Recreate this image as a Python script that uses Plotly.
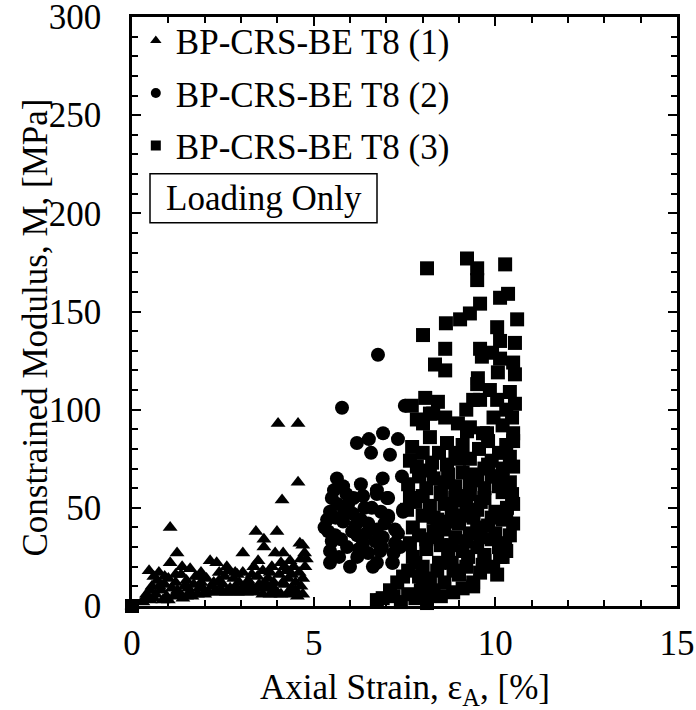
import plotly.graph_objects as go

# ---- Data ----
t1_x = [0, 0.3, 0.4, 0.47, 0.55, 0.6, 0.7, 0.74, 0.8, 0.9, 0.95, 1.0, 1.05, 1.05, 1.1, 1.2, 1.24, 1.3,
        1.35, 1.38, 1.45, 1.5, 1.6, 1.6, 1.7, 1.75, 1.85, 1.87, 1.9, 2.0, 2.05, 2.15, 2.2, 2.3, 2.33, 2.4,
        2.5, 2.6, 2.61, 2.65, 2.7, 2.8, 2.84, 2.9, 2.95, 3.05, 3.05, 3.1, 3.2, 3.3, 3.35, 3.41, 3.45,
        3.47, 3.5, 3.6, 3.63, 3.63, 3.7, 3.75, 3.85, 3.9, 3.94, 3.99, 4.02, 4.05, 4.1, 4.13, 4.16, 4.2,
        4.25, 4.3, 4.35, 4.4, 4.45, 4.5, 4.57, 4.57, 4.6, 4.62, 4.65, 4.7, 4.7, 4.75, 4.76, 4.4, 3.6,
        2.0, 1.0, 3.0, 4.0, 2.5, 1.5, 0.5,
        0.35, 0.5, 0.65, 0.75, 0.85, 0.9, 1.15, 1.25, 1.4, 1.55, 1.65, 1.8, 1.95, 2.1, 2.25, 2.35,
        2.45, 2.55, 2.75, 2.85, 3.0, 3.15, 3.25, 3.4, 3.55, 3.65, 3.8, 3.85, 3.95, 4.1, 4.15, 4.3,
        4.5, 4.55, 4.65, 4.7, 4.8, 4.4, 4.2, 3.8, 3.3, 2.9, 2.4, 1.9, 1.2, 0.6]
t1_y = [0, 2, 6, 18, 10, 4, 13, 17, 8, 11, 5, 14, 22, 40, 9, 12, 27, 6,
        16, 20, 10, 13, 19, 7, 11, 15, 9, 15, 12, 7, 14, 23, 10, 8, 22, 13,
        11, 7, 20, 18, 9, 14, 17, 7, 12, 27, 17, 10, 13, 8, 20, 38, 15,
        23, 11, 18, 34, 30, 9, 14, 20, 12, 27, 38, 93, 16, 22, 54, 27, 11,
        18, 14, 23, 9, 20, 12, 93, 63, 17, 32, 24, 31, 14, 27, 20, 6, 6,
        6, 3, 7, 6, 7, 5, 3,
        4, 8, 6, 10, 3, 15, 5, 8, 4, 9, 5, 6, 9, 7, 12, 7,
        8, 15, 7, 10, 8, 7, 11, 7, 9, 12, 6, 10, 8, 6, 12, 7,
        8, 5, 10, 6, 24, 16, 20, 17, 16, 16, 17, 17, 16, 15]

t2_x = [0, 6.77, 5.78, 7.51, 6.19, 6.52, 6.91, 6.58, 7.1, 7.32, 7.43, 5.64, 5.56, 5.81, 5.95, 6.36,
        6.74, 7.05, 5.45, 5.37, 5.81, 6.08, 6.5, 7.05, 7.46, 5.59, 6.06, 6.74, 7.32, 5.45, 5.92, 6.36,
        6.88, 7.24, 5.45, 6.0, 6.63, 7.16, 6.74, 7.02, 7.46, 7.05, 7.24, 7.38, 6.83, 6.74, 7.18, 6.2,
        5.7, 6.5, 5.6, 6.3, 5.5, 6.2, 6.9, 5.9, 6.6, 6.3, 6.9, 6.75, 5.75, 6.45, 6.1,
        5.4, 5.65, 5.85, 6.15, 6.4, 6.7, 6.95, 7.2, 5.5, 6.25, 6.85, 5.3]
t2_y = [0, 128, 101, 102, 83, 85, 88, 78, 77, 85, 66, 65, 59, 61, 52, 56,
        59, 55, 48, 44, 43, 47, 42, 46, 48, 36, 38, 39, 37, 28, 30, 32,
        30, 32, 22, 20, 20, 22, 57, 55, 49, 45, 39, 30, 28, 22, 22, 25,
        25, 27, 45, 44, 33, 36, 35, 57, 50, 62, 65, 3, 34, 37, 55,
        38, 52, 48, 41, 50, 33, 42, 27, 55, 29, 48, 40]

t3_x = [0, 8.12, 9.22, 9.5, 9.5, 10.27, 10.35, 10.13, 9.58, 9.3, 9.03, 8.64, 10.6, 8.01, 10.05, 10.13,
        10.54, 8.62, 9.58, 9.63, 9.91, 10.13, 10.49, 10.54, 10.07, 8.34, 8.62, 9.52, 9.5, 8.07, 8.42,
        9.39, 9.58, 10.05, 10.4, 10.54, 10.46, 8.29, 8.62, 8.97, 9.3, 9.77, 10.49, 8.01, 7.84, 8.2,
        9.66, 9.22, 7.7, 9.95, 10.2, 9.2, 9.85, 10.3,
        7.71, 7.65, 7.84, 8.2, 8.26, 8.67, 8.67, 8.9, 9.1, 9.3, 9.55, 9.8, 9.9, 10.1, 10.3, 10.4,
        10.49, 10.49, 8.0, 8.45, 9.7, 10.2,
        7.65, 7.6, 7.9, 8.1, 8.3, 8.5, 8.7, 8.9, 9.1, 9.3, 9.5, 9.7, 9.9, 10.05, 10.2, 10.4, 10.46,
        8.0, 9.1,
        7.57, 7.73, 7.8, 8.0, 8.2, 8.4, 8.6, 8.8, 9.0, 9.2, 9.4, 9.6, 9.8, 10.0, 10.2, 10.32, 10.49,
        10.49, 8.9, 9.5,
        7.65, 7.73, 7.9, 8.1, 8.3, 8.5, 8.7, 8.9, 9.1, 9.3, 9.5, 9.7, 9.9, 10.1, 10.27, 10.4, 10.2, 8.6,
        7.3, 7.46, 7.6, 7.8, 8.0, 8.2, 8.4, 8.6, 8.8, 9.0, 9.2, 9.39, 9.58, 9.94, 10.13, 9.7, 8.0, 7.9,
        6.74, 6.9, 7.1, 7.2, 7.4, 7.6, 7.8, 8.12, 8.29, 8.5, 8.84, 9.1, 9.39, 8.3, 7.95,
        8.1, 8.4, 8.8, 9.2, 9.6, 10.0, 10.3, 8.3, 8.7, 9.1, 9.5, 9.9, 10.3, 8.5, 8.9, 9.3, 9.7,
        10.1, 8.2, 8.6, 9.0, 9.4, 9.8, 10.2, 8.45, 8.85, 9.25, 9.65, 10.05]
t3_y = [0, 172, 177, 172, 166, 174, 159, 157, 154, 149, 146, 144, 146, 138, 142, 135,
        134, 131, 131, 127, 129, 126, 124, 118, 119, 123, 120, 116, 113, 106, 104,
        105, 105, 105, 109, 103, 96, 98, 96, 93, 91, 88, 88, 93, 95, 98,
        88, 89, 102, 96, 92, 100, 110, 100,
        81, 74, 71, 86, 73, 83, 72, 78, 82, 75, 80, 84, 74, 78, 82, 76,
        71, 84, 78, 78, 70, 70,
        55, 62, 66, 60, 65, 58, 67, 61, 68, 57, 64, 60, 66, 66, 58, 63, 57,
        56, 56,
        49, 40, 53, 46, 51, 44, 52, 47, 42, 50, 45, 53, 41, 48, 44, 50, 52,
        42, 54, 40,
        32, 25, 36, 29, 38, 31, 26, 35, 28, 37, 30, 26, 34, 30, 32, 36, 25, 39,
        12, 15, 18, 22, 20, 14, 18, 12, 22, 16, 20, 12, 17, 20, 25, 23, 10, 15,
        3, 4, 8, 5, 2, 6, 4, 1.5, -1, 5, 7, 9, 10, 8, 8,
        34, 35, 31, 33, 35, 37, 28, 45, 43, 46, 49, 45, 47, 57, 55, 62, 55,
        61, 69, 63, 75, 67, 72, 64, 22, 18, 25, 21, 16]

series_names = ["BP-CRS-BE T8 (1)", "BP-CRS-BE T8 (2)", "BP-CRS-BE T8 (3)"]
x_ticks = [0, 5, 10, 15]
y_ticks = [0, 50, 100, 150, 200, 250, 300]
x_title = "Axial Strain, ε<sub>A</sub>, [%]"
y_title = "Constrained Modulus, M, [MPa]"

FONT = "Liberation Serif, Times New Roman, serif"
FS = 35

W, H = 696, 710
L, R, T, B = 132, 19, 16, 104
PW, PH = W - L - R, H - T - B  # 545 x 590

fig = go.Figure()
symbols = ["triangle-up", "circle", "square"]
sizes = [13, 14, 14]
data = [(t1_x, t1_y), (t2_x, t2_y), (t3_x, t3_y)]
for (xs, ys), sym, sz in zip(data, symbols, sizes):
    fig.add_trace(go.Scatter(x=xs, y=ys, mode="markers", showlegend=False, cliponaxis=False,
                             marker=dict(symbol=sym, size=sz, color="black", line=dict(width=0))))
# legend entries (smaller symbols, as in the reference)
for i, (name, sym) in enumerate(zip(series_names, symbols)):
    fig.add_trace(go.Scatter(x=[None], y=[None], mode="markers", name=name, legendgroup=str(i),
                             marker=dict(symbol=sym, size=10, color="black")))

axis_common = dict(showline=True, linecolor="black", linewidth=2.5, mirror="allticks",
                   ticks="inside", ticklen=9, tickwidth=2, tickcolor="black",
                   showgrid=False, zeroline=False, automargin=False, ticklabeloverflow="allow",
                   tickfont=dict(family=FONT, size=FS, color="black"))

fig.update_xaxes(range=[0, 15], tickvals=x_ticks, ticklabelstandoff=4,
                 minor=dict(dtick=1, ticks="inside", ticklen=6, tickwidth=2, tickcolor="black", showgrid=False),
                 **axis_common)
fig.update_yaxes(range=[0, 300], tickvals=y_ticks, ticklabelstandoff=21,
                 minor=dict(dtick=10, ticks="inside", ticklen=6, tickwidth=2, tickcolor="black", showgrid=False),
                 **axis_common)

# axis titles (placed as in the reference)
fig.add_annotation(text=x_title, xref="paper", yref="paper", x=0.501, y=-84 / PH,
                   showarrow=False, xanchor="center", yanchor="middle",
                   font=dict(family=FONT, size=FS, color="black"))
fig.add_annotation(text=y_title, xref="paper", yref="paper", x=-97 / PW, y=(590 - 311) / PH,
                   textangle=-90, showarrow=False, xanchor="center", yanchor="middle",
                   font=dict(family=FONT, size=FS, color="black"))

fig.add_shape(type="rect", xref="paper", yref="paper",
              x0=18 / PW, x1=245 / PW, y0=(590 - 206) / PH, y1=(590 - 157) / PH,
              line=dict(color="black", width=1.5), fillcolor="white", layer="above")
fig.add_annotation(text="Loading Only", xref="paper", yref="paper", x=131.5 / PW,
                   y=(590 - 181.5) / PH, showarrow=False, xanchor="center", yanchor="middle",
                   font=dict(family=FONT, size=FS, color="black"))

fig.update_layout(
    width=W, height=H,
    margin=dict(l=L, r=R, t=T, b=B),
    plot_bgcolor="white", paper_bgcolor="white",
    font=dict(family=FONT, size=FS, color="black"),
    legend=dict(x=0.007, y=1.008, xanchor="left", yanchor="top", bgcolor="rgba(0,0,0,0)",
                traceorder="grouped", tracegroupgap=4, itemwidth=30,
                font=dict(family=FONT, size=FS, color="black")),
)

fig.write_html("out.html", config={"displayModeBar": False},
               post_script="document.body.style.margin='0';document.body.style.overflow='hidden';")
